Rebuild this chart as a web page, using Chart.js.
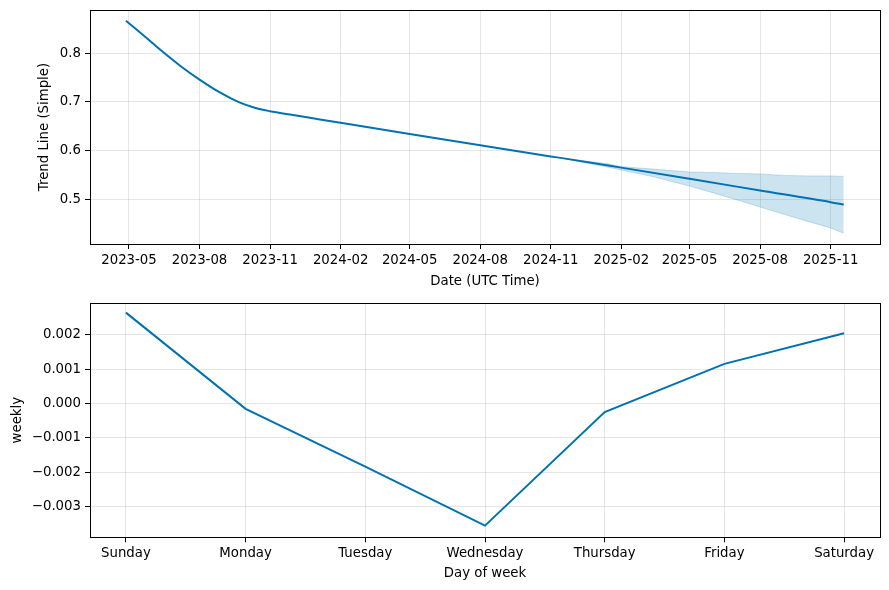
<!DOCTYPE html>
<html>
<head>
<meta charset="utf-8">
<script src="https://cdn.jsdelivr.net/npm/chart.js@4.4.1/dist/chart.umd.min.js"></script>
<style>
  body { margin: 0; background: #fff; }
  .panel { position: absolute; left: 0; width: 889px; height: 295px; }
</style>
</head>
<body>
<div class="panel" style="top:0"><canvas id="trend-chart" width="889" height="295"></canvas></div>
<div class="panel" style="top:295px"><canvas id="weekly-chart" width="889" height="295"></canvas></div>
<script>
// trend component
const trendDates = ['2023-04-27','2023-05-22','2023-06-14','2023-07-07','2023-08-01','2023-08-27','2023-09-22','2023-10-12','2023-11-01','2023-11-27','2024-01-05','2024-05-01','2024-08-01','2024-11-01','2024-11-18','2025-02-01','2025-05-01','2025-08-01','2025-11-01','2025-11-18']
const trendValues = [0.867,0.834,0.803,0.774,0.746,0.720,0.699,0.688,0.681,0.674,0.664,0.634,0.611,0.588,0.584,0.565,0.542,0.518,0.494,0.489]

// uncertainty band, forecast part only
const bandDates = ['2024-11-18','2024-12-15','2025-01-15','2025-02-01','2025-03-15','2025-05-01','2025-06-01','2025-07-01','2025-08-01','2025-09-01','2025-10-01','2025-11-01','2025-11-18']
const bandUpper = [0.584,0.579,0.573,0.567,0.562,0.556,0.555,0.553,0.552,0.549,0.548,0.548,0.547]
const bandLower = [0.584,0.575,0.566,0.560,0.546,0.527,0.513,0.499,0.484,0.469,0.455,0.441,0.430]

const trendTickLabels = ['2023-05','2023-08','2023-11','2024-02','2024-05','2024-08','2024-11','2025-02','2025-05','2025-08','2025-11']
const trendYTicks = [0.5, 0.6, 0.7, 0.8]

// weekly component
const dayNames = ['Sunday','Monday','Tuesday','Wednesday','Thursday','Friday','Saturday']
const weeklyValues = [0.00265, -0.000155, -0.00184, -0.00356, -0.00025, 0.001155, 0.00205]
const weeklyYTicks = [-0.003, -0.002, -0.001, 0, 0.001, 0.002]

const blue = '#0072B2'
const bandColor = 'rgba(0,114,178,0.2)'
const gridColor = 'rgba(128,128,128,0.2)'
const font = { family: 'DejaVu Sans', size: 13.3 }
const DAY = 86400000

Chart.defaults.font = font
Chart.defaults.color = '#000'

// black box round the plot area, like matplotlib spines
const frame = {
    id: 'frame',
    afterDraw(chart) {
        const a = chart.chartArea
        const ctx = chart.ctx
        ctx.save()
        ctx.strokeStyle = '#000'
        ctx.lineWidth = 1
        ctx.strokeRect(Math.round(a.left) + 0.5, Math.round(a.top) + 0.5, Math.round(a.right - a.left), Math.round(a.bottom - a.top))
        ctx.restore()
    }
}

function grid() {
    return { color: gridColor, lineWidth: 1, tickColor: '#000', tickWidth: 1, tickLength: 5 }
}

// fixed axis sizes so both plot areas sit where they do in the picture
function fixX(h) {
    return scale => {
        scale.height = h
        scale.paddingLeft = 0
        scale.paddingRight = 0
    }
}
function fixY(w) {
    return scale => {
        scale.width = w
        scale.paddingTop = 0
        scale.paddingBottom = 0
    }
}

function toPoints(dates, values) {
    return dates.map((d, i) => ({ x: Date.parse(d), y: values[i] }))
}

function fmtMinus(v, digits) {
    const s = Math.abs(v).toFixed(digits)
    return v < -1e-12 ? '\u2212' + s : s
}

new Chart(document.querySelector('#trend-chart').getContext('2d'), {
    type: 'line',
    data: {
        datasets: [
            {
                data: toPoints(trendDates, trendValues),
                borderColor: blue,
                borderWidth: 2,
                pointRadius: 0,
                cubicInterpolationMode: 'monotone',
                fill: false
            },
            {
                data: toPoints(bandDates, bandLower),
                borderColor: bandColor,
                borderWidth: 1,
                pointRadius: 0,
                fill: false
            },
            {
                data: toPoints(bandDates, bandUpper),
                borderColor: bandColor,
                backgroundColor: bandColor,
                borderWidth: 1,
                pointRadius: 0,
                fill: '-1'
            }
        ]
    },
    options: {
        responsive: false,
        animation: false,
        devicePixelRatio: 1,
        layout: { padding: { left: 0, right: 9, top: 10, bottom: 0 } },
        plugins: { legend: { display: false }, tooltip: { enabled: false } },
        scales: {
            x: {
                type: 'linear',
                min: Date.parse('2023-05-01') - 50.85 * DAY,
                max: Date.parse('2025-11-01') + 64.3 * DAY,
                grid: grid(),
                border: { display: false },
                afterBuildTicks: scale => { scale.ticks = trendTickLabels.map(l => ({ value: Date.parse(l + '-01') })) },
                afterFit: fixX(51),
                ticks: {
                    autoSkip: false,
                    maxRotation: 0,
                    padding: 4,
                    callback: v => new Date(v).toISOString().slice(0, 7)
                },
                title: { display: true, text: 'Date (UTC Time)', padding: { top: 0, bottom: 5 } }
            },
            y: {
                min: 0.408,
                max: 0.889,
                grid: grid(),
                border: { display: false },
                afterBuildTicks: scale => { scale.ticks = trendYTicks.map(v => ({ value: v })) },
                afterFit: fixY(90),
                ticks: { padding: 4, callback: v => v.toFixed(1) },
                title: { display: true, text: 'Trend Line (Simple)', padding: { top: 37, bottom: 0 } }
            }
        }
    },
    plugins: [frame]
})

new Chart(document.querySelector('#weekly-chart').getContext('2d'), {
    type: 'line',
    data: {
        datasets: [{
            data: weeklyValues.map((v, i) => ({ x: i, y: v })),
            borderColor: blue,
            borderWidth: 2,
            pointRadius: 0,
            fill: false
        }]
    },
    options: {
        responsive: false,
        animation: false,
        devicePixelRatio: 1,
        layout: { padding: { left: 0, right: 9, top: 8, bottom: 0 } },
        plugins: { legend: { display: false }, tooltip: { enabled: false } },
        scales: {
            x: {
                type: 'linear',
                min: -0.3,
                max: 6.3,
                grid: grid(),
                border: { display: false },
                afterBuildTicks: scale => { scale.ticks = dayNames.map((d, i) => ({ value: i })) },
                afterFit: fixX(52.7),
                ticks: {
                    autoSkip: false,
                    maxRotation: 0,
                    padding: 3,
                    callback: v => dayNames[v]
                },
                title: { display: true, text: 'Day of week', padding: { top: 0, bottom: 8 } }
            },
            y: {
                min: -0.0039,
                max: 0.00293,
                grid: grid(),
                border: { display: false },
                afterBuildTicks: scale => { scale.ticks = weeklyYTicks.map(v => ({ value: v })) },
                afterFit: fixY(90),
                ticks: { padding: 4, callback: v => fmtMinus(v, 3) },
                title: { display: true, text: 'weekly', padding: { top: 9.4, bottom: 0 } }
            }
        }
    },
    plugins: [frame]
})
</script>
</body>
</html>
